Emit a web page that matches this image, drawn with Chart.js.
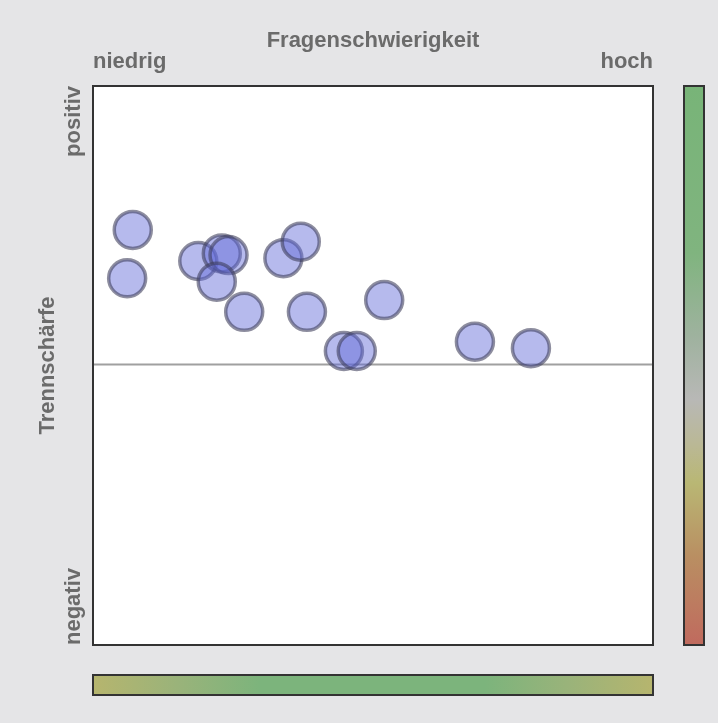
<!DOCTYPE html>
<html>
<head>
<meta charset="utf-8">
<script src="https://cdn.jsdelivr.net/npm/chart.js@4/dist/chart.umd.min.js"></script>
<style>
html,body{margin:0;padding:0;background:#e5e5e7;}
canvas{display:block;}
</style>
</head>
<body>
<canvas id="c" width="718" height="723"></canvas>
<script>
// Data
const difficulty     = [0.071, 0.061, 0.188, 0.230, 0.242, 0.221, 0.270, 0.340, 0.371, 0.382, 0.520, 0.448, 0.471, 0.682, 0.782];
const discrimination = [0.485, 0.312, 0.374, 0.401, 0.395, 0.300, 0.192, 0.384, 0.443, 0.192, 0.234, 0.052, 0.052, 0.085, 0.062];
const xLabels = ['niedrig', 'hoch'];
const yLabels = ['positiv', 'negativ'];
const xTitle = 'Fragenschwierigkeit';
const yTitle = 'Trennschärfe';

const points = difficulty.map((d, i) => ({ x: d, y: discrimination[i], r: 18.5 }));

const TEXT = '#6b6b6b';
const FONT = 'bold 22px "Liberation Sans", Arial, sans-serif';

const decor = {
  id: 'decor',
  beforeDraw(chart) {
    const ctx = chart.ctx, a = chart.chartArea;
    ctx.save();
    ctx.fillStyle = '#e5e5e7';
    ctx.fillRect(0, 0, chart.width, chart.height);
    ctx.fillStyle = '#ffffff';
    ctx.fillRect(a.left, a.top, a.right - a.left, a.bottom - a.top);

    // right colour bar
    const rx = 684, rw = 20;
    let g = ctx.createLinearGradient(0, a.top, 0, a.bottom);
    g.addColorStop(0, '#78b478');
    g.addColorStop(0.3, '#80b47f');
    g.addColorStop(0.45, '#9fb29f');
    g.addColorStop(0.56, '#b8b8b6');
    g.addColorStop(0.64, '#bab896');
    g.addColorStop(0.71, '#b9b774');
    g.addColorStop(0.84, '#b98f62');
    g.addColorStop(1, '#c06a5e');
    ctx.fillStyle = g;
    ctx.fillRect(rx, a.top, rw, a.bottom - a.top);
    ctx.strokeStyle = '#333';
    ctx.lineWidth = 2;
    ctx.strokeRect(rx, a.top, rw, a.bottom - a.top);

    // bottom colour bar
    const by = 675, bh = 20;
    g = ctx.createLinearGradient(a.left, 0, a.right, 0);
    g.addColorStop(0, '#b6b56e');
    g.addColorStop(0.15, '#9ab37a');
    g.addColorStop(0.3, '#7cb47c');
    g.addColorStop(0.7, '#7cb47c');
    g.addColorStop(0.85, '#9ab37a');
    g.addColorStop(1, '#b6b56e');
    ctx.fillStyle = g;
    ctx.fillRect(a.left, by, a.right - a.left, bh);
    ctx.strokeRect(a.left, by, a.right - a.left, bh);

    // texts
    ctx.fillStyle = TEXT;
    ctx.font = FONT;
    ctx.textBaseline = 'alphabetic';
    ctx.textAlign = 'center';
    ctx.fillText(xTitle, (a.left + a.right) / 2, 47);
    ctx.textAlign = 'left';
    ctx.fillText(xLabels[0], a.left, 68);
    ctx.textAlign = 'right';
    ctx.fillText(xLabels[1], a.right, 68);

    // vertical texts
    ctx.save();
    ctx.translate(80, a.top);
    ctx.rotate(-Math.PI / 2);
    ctx.textAlign = 'right';
    ctx.fillText(yLabels[0], 0, 0);
    ctx.restore();

    ctx.save();
    ctx.translate(80, a.bottom);
    ctx.rotate(-Math.PI / 2);
    ctx.textAlign = 'left';
    ctx.fillText(yLabels[1], 0, 0);
    ctx.restore();

    ctx.save();
    ctx.translate(54, (a.top + a.bottom) / 2);
    ctx.rotate(-Math.PI / 2);
    ctx.textAlign = 'center';
    ctx.fillText(yTitle, 0, 0);
    ctx.restore();

    ctx.restore();
  },
  beforeDatasetsDraw(chart) {
    const ctx = chart.ctx, a = chart.chartArea;
    const y0 = Math.round(chart.scales.y.getPixelForValue(0)) - 1.5;
    ctx.save();
    ctx.strokeStyle = '#a0a0a0';
    ctx.lineWidth = 2;
    ctx.beginPath();
    ctx.moveTo(a.left, y0);
    ctx.lineTo(a.right, y0);
    ctx.stroke();
    ctx.restore();
  },
  afterDatasetsDraw(chart) {
    const ctx = chart.ctx, a = chart.chartArea;
    ctx.save();
    ctx.strokeStyle = '#333';
    ctx.lineWidth = 2;
    ctx.strokeRect(a.left, a.top, a.right - a.left, a.bottom - a.top);
    ctx.restore();
  }
};

new Chart(document.getElementById('c'), {
  type: 'bubble',
  data: {
    datasets: [{
      data: points,
      backgroundColor: 'rgba(95,105,215,0.46)',
      borderColor: 'rgba(60,60,90,0.58)',
      borderWidth: 3.5,
      hoverBorderWidth: 3.5
    }]
  },
  options: {
    responsive: false,
    devicePixelRatio: 1,
    animation: false,
    layout: { padding: { left: 93, right: 65, top: 86, bottom: 78 } },
    scales: {
      x: { type: 'linear', min: 0, max: 1, display: false },
      y: { type: 'linear', min: -1, max: 1, display: false }
    },
    plugins: { legend: { display: false }, tooltip: { enabled: false } },
    events: []
  },
  plugins: [decor]
});
</script>
</body>
</html>
